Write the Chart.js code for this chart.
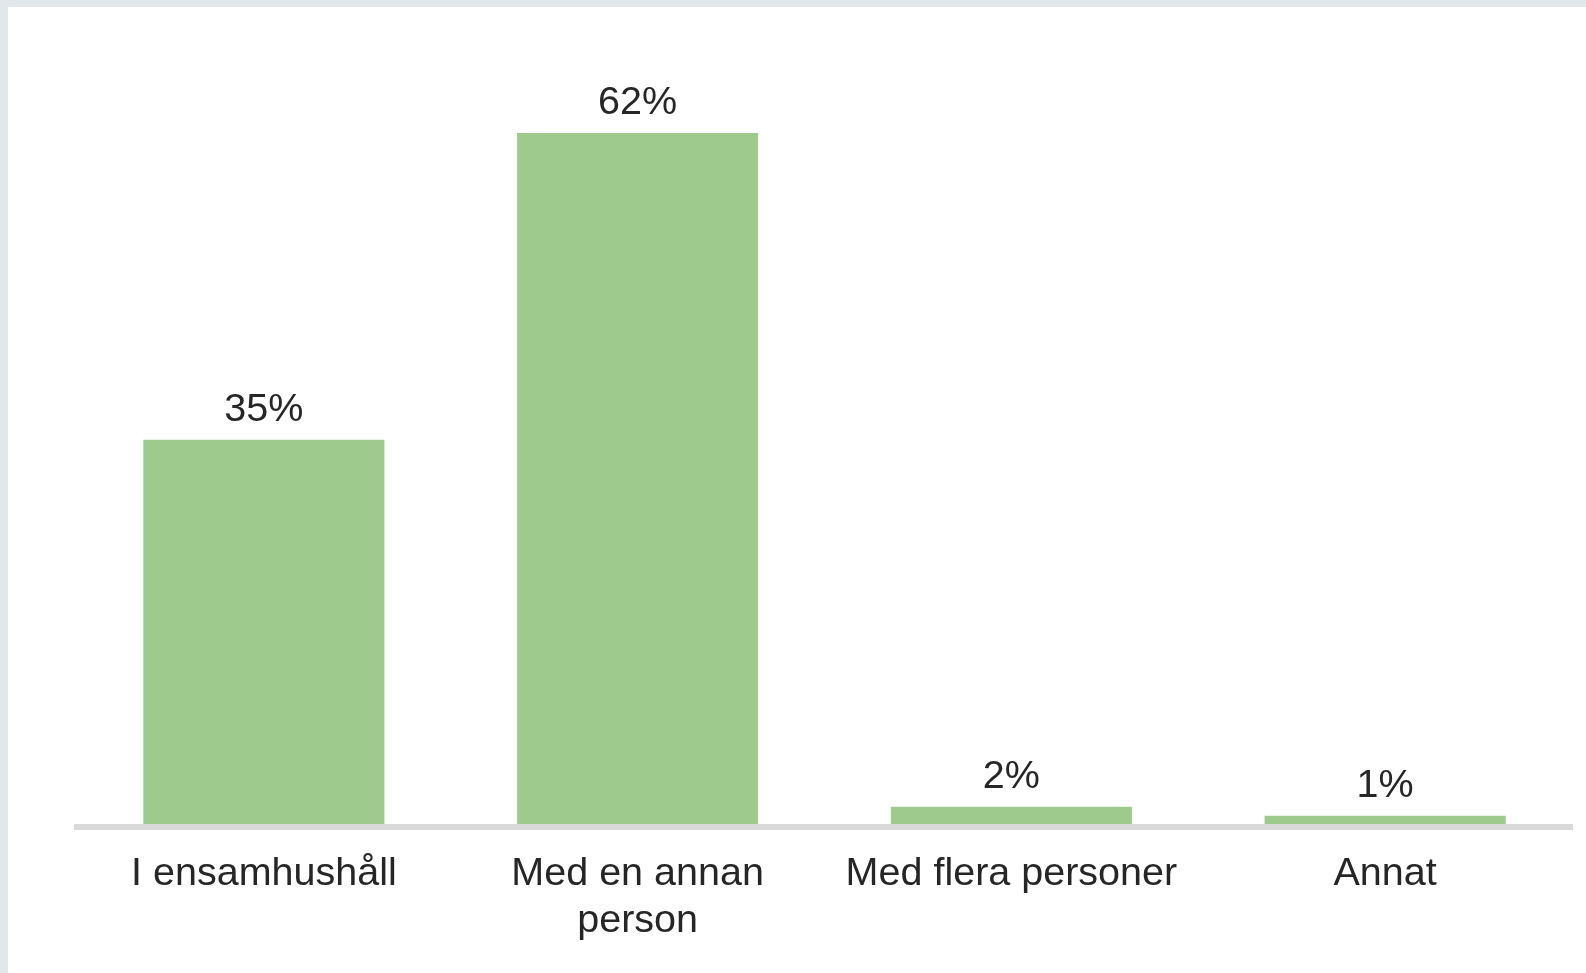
<!DOCTYPE html>
<html>
<head>
<meta charset="utf-8">
<script src="https://cdn.jsdelivr.net/npm/chart.js"></script>
<style>
  html, body { margin: 0; padding: 0; background: #e2e7eb; overflow: hidden; }
  #wrap { position: absolute; left: 8px; top: 7px; width: 1578px; height: 966px; background: #fff; }
</style>
</head>
<body>
<div id="wrap"><canvas id="myChart"></canvas></div>
<script>
// DATA
const categories = ["I ensamhushåll", ["Med en annan", "person"], "Med flera personer", "Annat"];
const values = [34.6, 62, 1.8, 1.0];

const FONT = "'Liberation Sans', Arial, sans-serif";
const TEXT = "#262626";

// labels above the bars
const valueLabels = {
  id: "valueLabels",
  afterDatasetsDraw(chart) {
    const { ctx } = chart;
    const meta = chart.getDatasetMeta(0);
    ctx.save();
    ctx.font = "39.5px " + FONT;
    ctx.fillStyle = TEXT;
    ctx.textAlign = "center";
    ctx.textBaseline = "alphabetic";
    meta.data.forEach((bar, i) => {
      ctx.fillText(Math.round(values[i]) + "%", bar.x, bar.y - 19);
    });
    ctx.restore();
  },
};

const CHART = document.getElementById("myChart");

new Chart(CHART, {
  type: "bar",
  data: {
    labels: categories,
    datasets: [
      {
        data: values,
        backgroundColor: "#9eca8e",
        categoryPercentage: 1,
        barPercentage: 0.645,
      },
    ],
  },
  options: {
    responsive: true,
    maintainAspectRatio: false,
    animation: false,
    layout: { padding: { left: 69, right: 14, top: 36.5, bottom: 0 } },
    plugins: {
      legend: { display: false },
      tooltip: { enabled: false },
    },
    scales: {
      x: {
        grid: { display: false, drawTicks: false },
        border: { display: true, color: "#d9d9d9", width: 6, z: 1 },
        ticks: {
          color: TEXT,
          font: { family: FONT, size: 39.5, lineHeight: 1.18 },
          padding: 24,
          maxRotation: 0,
          autoSkip: false,
        },
        afterFit(scale) {
          scale.height = 146;
        },
      },
      y: {
        display: false,
        min: 0,
        max: 70,
      },
    },
  },
  plugins: [valueLabels],
});
</script>
</body>
</html>
